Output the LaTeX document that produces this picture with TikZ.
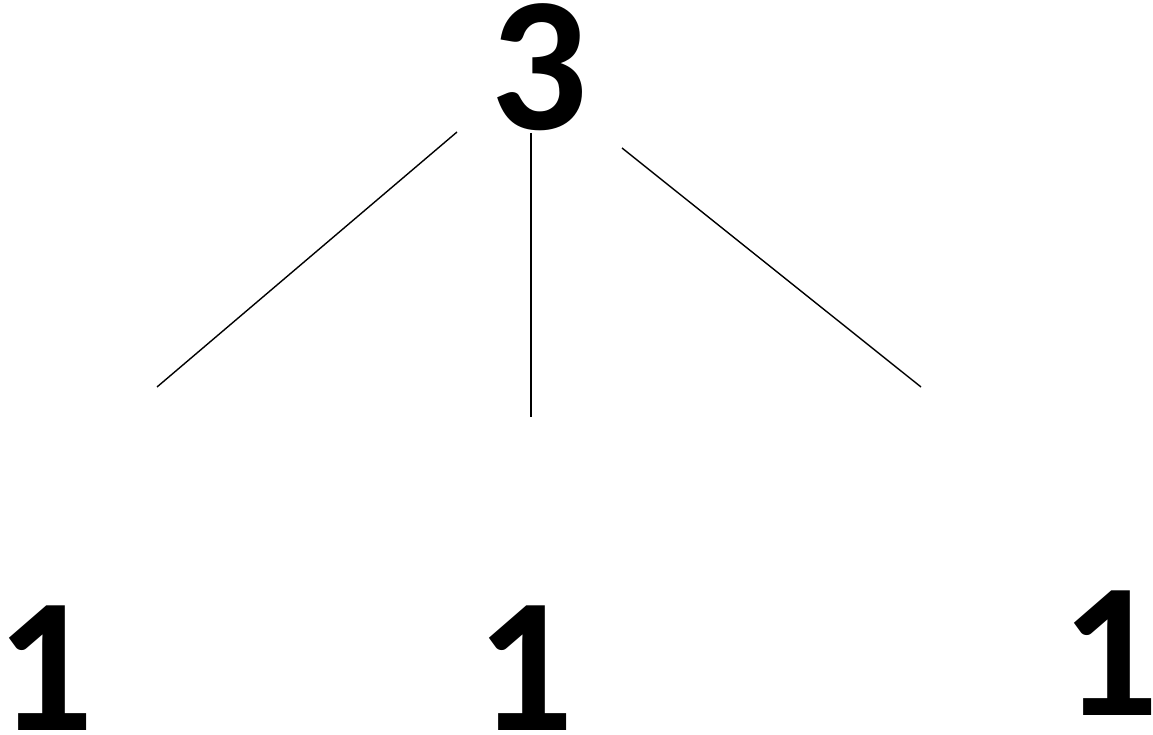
\documentclass[tikz,border=0pt]{standalone}
\usepackage{fontspec}
\setmainfont{Carlito}
\begin{document}
\begin{tikzpicture}[x=1pt,y=-1pt,
  digit/.style={font=\fontsize{192}{200}\selectfont\bfseries, inner sep=0pt, anchor=base, text height=123pt, text depth=2pt},
  branch/.style={line width=1.4pt, black}]
\useasboundingbox[fill=white] (0,0) rectangle (1153,735);
\node[digit] (top) at (539,130) {3};
\node[digit] (l1) at (45.5,730) {1};
\node[digit] (m1) at (525.5,730) {1};
\node[digit] (r1) at (1110.5,715) {1};
\coordinate (a1) at (457,132);
\coordinate (a2) at (157,387);
\coordinate (b1) at (531,133);
\coordinate (b2) at (531,417);
\coordinate (c1) at (622,148);
\coordinate (c2) at (921,387);
\draw[branch] (a1) -- (a2);
\draw[branch] (b1) -- (b2);
\draw[branch] (c1) -- (c2);
\end{tikzpicture}
\end{document}
